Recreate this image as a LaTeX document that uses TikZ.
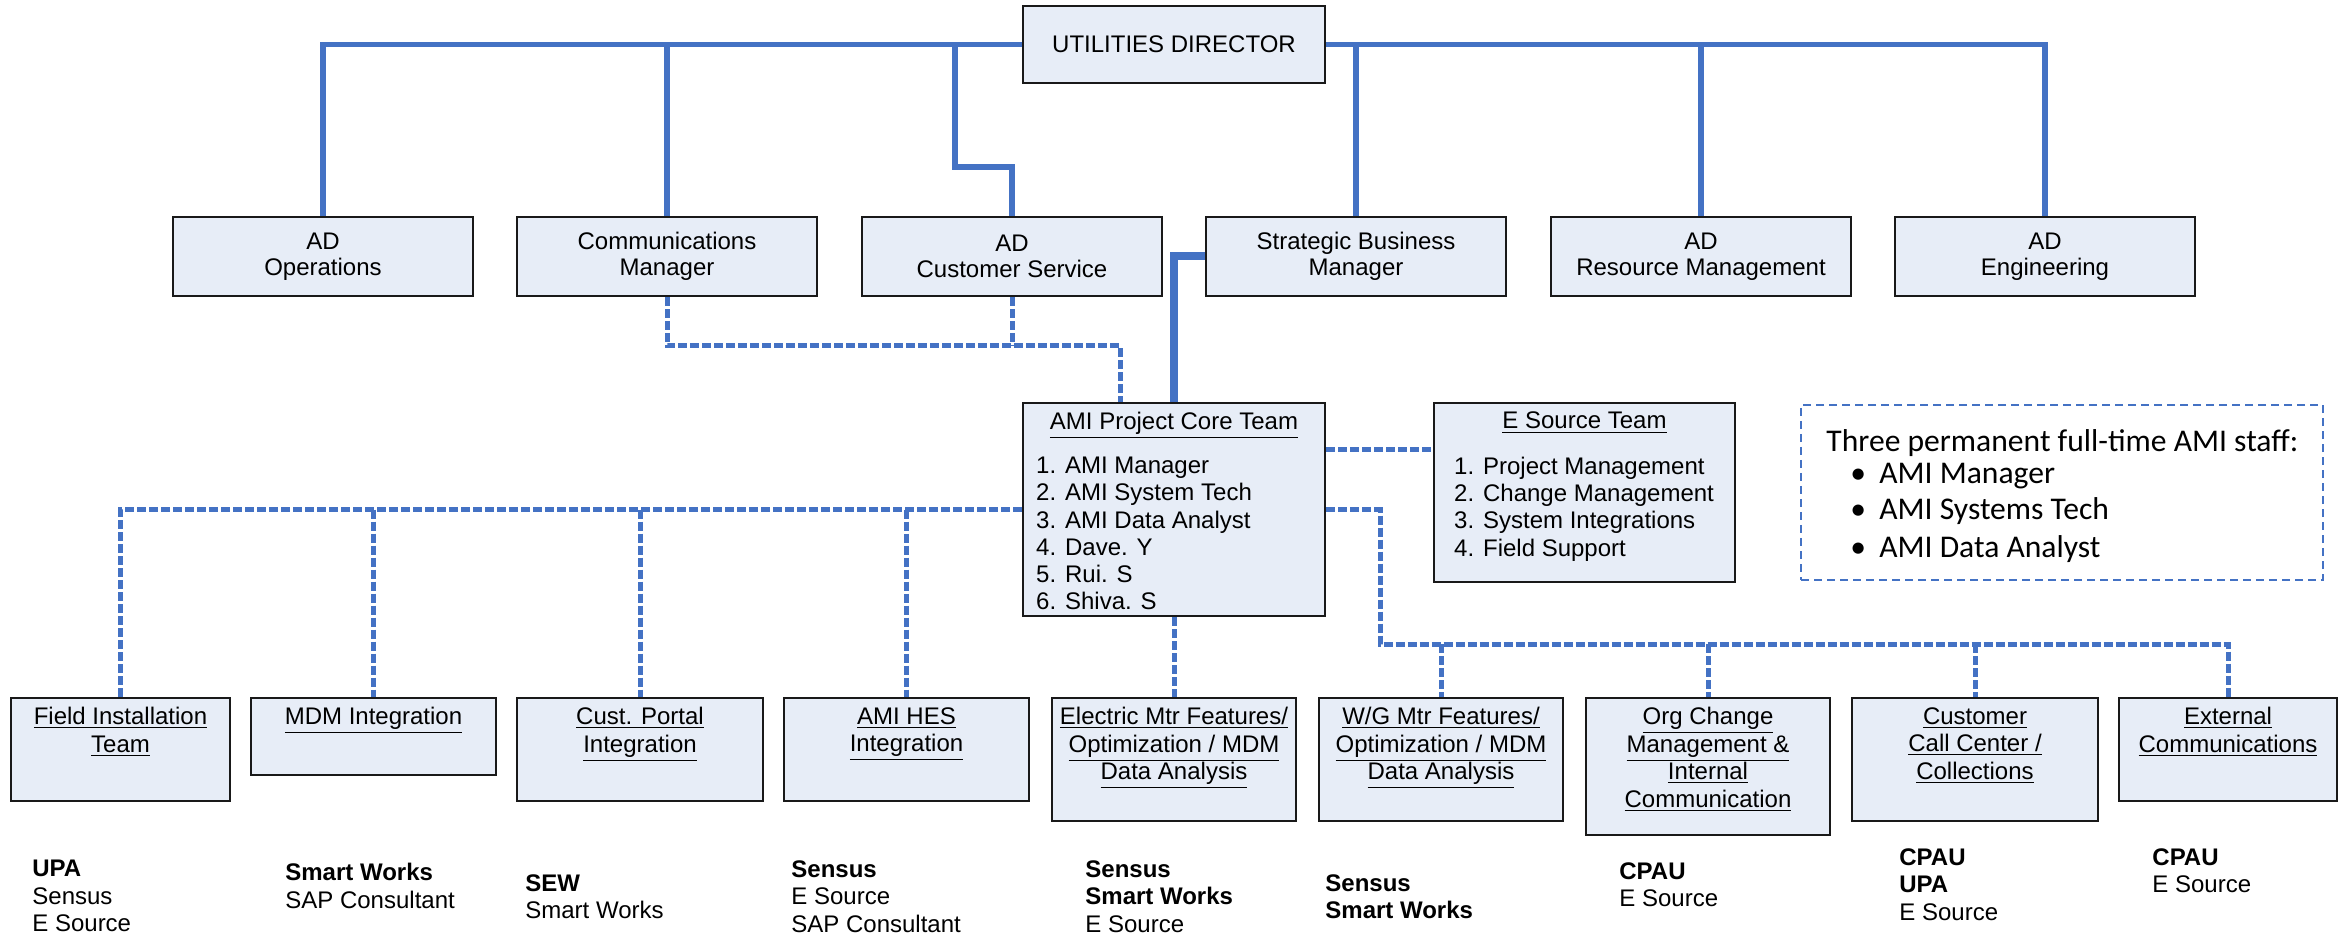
\documentclass[tikz,border=0pt]{standalone}
\usepackage{fontspec}
\setmainfont{Liberation Sans}
\newfontfamily\calib{Carlito}
\usetikzlibrary{calc}
\definecolor{boxfill}{HTML}{E7EDF7}
\definecolor{lineblue}{HTML}{4472C4}
\tikzset{
  sz/.style 2 args={minimum width=#1pt/2, minimum height=#2pt/2},
  box/.style={draw=black!90, line width=1.2pt, fill=boxfill, inner sep=0pt, align=center, font=\fontsize{12}{13}\selectfont},
  txt/.style={inner sep=0pt, font=\fontsize{12}{13.75}\selectfont},
  lst/.style={inner sep=0pt, align=left, font=\fontsize{12}{13.6}\selectfont},
  orgline/.style={draw=lineblue, line width=2.75pt},
  orgthick/.style={draw=lineblue, line width=4pt},
  dashlink/.style={draw=lineblue, line width=2.5pt, dash pattern=on 4.5pt off 1.5pt},
  notebox/.style={draw=lineblue, line width=1pt, dash pattern=on 4pt off 2.5pt},
  notetxt/.style={inner sep=0pt, font=\calib\fontsize{15.8}{18}\selectfont},
}
\begin{document}
\begin{tikzpicture}[x=0.5pt,y=-0.5pt]
\useasboundingbox (0,0) rectangle (2346,936);

% top level
\node[box, sz={302}{77}] (dir) at (1174,44.5) {UTILITIES DIRECTOR};

% second row
\node[box, sz={300}{79}] (ops)  at (323,256.5)  {AD\\Operations};
\node[box, sz={300}{79}] (comm) at (667,256.5)  {Communications\\Manager};
\node[box, sz={300}{79}] (acs)  at (1012,256.5) {AD\\Customer Service};
\node[box, sz={300}{79}] (sbm)  at (1356,256.5) {Strategic Business\\Manager};
\node[box, sz={300}{79}] (res)  at (1701,256.5) {AD\\Resource Management};
\node[box, sz={300}{79}] (eng)  at (2045,256.5) {AD\\Engineering};

% core team
\node[box, sz={302}{213}] (core) at (1174,509.5) {};
\node[txt, anchor=north] (coreT) at ($(core.north)+(0,10)$) {\underline{AMI Project Core Team}};
\node[lst, anchor=north west] (coreL) at ($(core.north west)+(14,55)$)
  {1. AMI Manager\\2. AMI System Tech\\3. AMI Data Analyst\\4. Dave. Y\\5. Rui. S\\6. Shiva. S};

% E Source team
\node[box, sz={301}{179}] (esrc) at (1584.5,492.5) {};
\node[txt, anchor=north] (esrcT) at ($(esrc.north)+(0,10)$) {\underline{E Source Team}};
\node[lst, anchor=north west] (esrcL) at ($(esrc.north west)+(21,55)$)
  {1. Project Management\\2. Change Management\\3. System Integrations\\4. Field Support};

% note box
\node[notebox, sz={522}{175}, inner sep=0pt] (note) at (2062,492.5) {};
\node[notetxt, anchor=base west] (nhead) at (1826,451) {Three permanent full-time AMI staff:};
\node[notetxt, anchor=base west] (n1) at (1850,483) {\makebox[14.5pt][l]{•}AMI Manager};
\node[notetxt, anchor=base west] (n2) at (1850,519) {\makebox[14.5pt][l]{•}AMI Systems Tech};
\node[notetxt, anchor=base west] (n3) at (1850,557) {\makebox[14.5pt][l]{•}AMI Data Analyst};

% bottom row
\node[box, sz={219}{103}, anchor=north] (fit)  at (120.5,697) {};
\node[box, sz={245}{77},  anchor=north] (mdm)  at (373.5,697) {};
\node[box, sz={246}{103}, anchor=north] (port) at (640,697)   {};
\node[box, sz={245}{103}, anchor=north] (hes)  at (906.5,697) {};
\node[box, sz={244}{123}, anchor=north] (elec) at (1174,697)  {};
\node[box, sz={244}{123}, anchor=north] (wg)   at (1441,697)  {};
\node[box, sz={244}{137}, anchor=north] (org)  at (1708,697)  {};
\node[box, sz={246}{123}, anchor=north] (cc)   at (1975,697)  {};
\node[box, sz={218}{103}, anchor=north] (ext)  at (2228,697)  {};

\node[txt, align=center, anchor=north] (fitT)  at ($(fit.north)+(0,10)$)  {\underline{Field Installation}\\\underline{Team}};
\node[txt, align=center, anchor=north] (mdmT)  at ($(mdm.north)+(0,10)$)  {\underline{MDM Integration}};
\node[txt, align=center, anchor=north] (portT) at ($(port.north)+(0,10)$) {\underline{Cust. Portal}\\\underline{Integration}};
\node[txt, align=center, anchor=north] (hesT)  at ($(hes.north)+(0,10)$)  {\underline{AMI HES}\\\underline{Integration}};
\node[txt, align=center, anchor=north] (elecT) at ($(elec.north)+(0,10)$) {\underline{Electric Mtr Features/}\\\underline{Optimization / MDM}\\\underline{Data Analysis}};
\node[txt, align=center, anchor=north] (wgT)   at ($(wg.north)+(0,10)$)   {\underline{W/G Mtr Features/}\\\underline{Optimization / MDM}\\\underline{Data Analysis}};
\node[txt, align=center, anchor=north] (orgT)  at ($(org.north)+(0,10)$)  {\underline{Org Change}\\\underline{Management \&}\\\underline{Internal}\\\underline{Communication}};
\node[txt, align=center, anchor=north] (ccT)   at ($(cc.north)+(0,10)$)   {\underline{Customer}\\\underline{Call Center /}\\\underline{Collections}};
\node[txt, align=center, anchor=north] (extT)  at ($(ext.north)+(0,10)$)  {\underline{External}\\\underline{Communications}};

% vendor lists
\node[txt, align=left, anchor=north west] (v1) at (32,860)   {\textbf{UPA}\\Sensus\\E Source};
\node[txt, align=left, anchor=north west] (v2) at (285,863)  {\textbf{Smart Works}\\SAP Consultant};
\node[txt, align=left, anchor=north west] (v3) at (525,874)  {\textbf{SEW}\\Smart Works};
\node[txt, align=left, anchor=north west] (v4) at (791,860)  {\textbf{Sensus}\\E Source\\SAP Consultant};
\node[txt, align=left, anchor=north west] (v5) at (1085,860) {\textbf{Sensus}\\\textbf{Smart Works}\\E Source};
\node[txt, align=left, anchor=north west] (v6) at (1325,874) {\textbf{Sensus}\\\textbf{Smart Works}};
\node[txt, align=left, anchor=north west] (v7) at (1619,862) {\textbf{CPAU}\\E Source};
\node[txt, align=left, anchor=north west] (v8) at (1899,848) {\textbf{CPAU}\\\textbf{UPA}\\E Source};
\node[txt, align=left, anchor=north west] (v9) at (2152,848) {\textbf{CPAU}\\E Source};

% solid reporting lines
\coordinate (acsk) at (955,167);
\draw[orgline] (dir.west) -| (ops.north);
\draw[orgline] (dir.west) -| (comm.north);
\draw[orgline] (dir.west) -| (acsk) -| (acs.north);
\draw[orgline] (dir.east) -| (sbm.north);
\draw[orgline] (dir.east) -| (res.north);
\draw[orgline] (dir.east) -| (eng.north);
\draw[orgthick] (core.north) |- (sbm.west);

% dashed links above core
\coordinate (cj) at (1120,346);
\draw[dashlink] (comm.south) |- (cj) -- (cj |- core.north);
\draw[dashlink] (acs.south) -- (acs.south |- cj);

% core to E Source
\coordinate (esy) at (0,449);
\draw[dashlink] (core.east |- esy) -- (esrc.west |- esy);

% left bus
\draw[dashlink] (core.west) -| (fit.north);
\draw[dashlink] (mdm.north |- core.west) -- (mdm.north);
\draw[dashlink] (port.north |- core.west) -- (port.north);
\draw[dashlink] (hes.north |- core.west) -- (hes.north);

% core to electric
\draw[dashlink] (core.south) -- (elec.north);

% right bus
\coordinate (rb) at (1380,644);
\draw[dashlink] (core.east) -| (rb) -| (ext.north);
\draw[dashlink] (wg.north |- rb) -- (wg.north);
\draw[dashlink] (org.north |- rb) -- (org.north);
\draw[dashlink] (cc.north |- rb) -- (cc.north);
\end{tikzpicture}
\end{document}
